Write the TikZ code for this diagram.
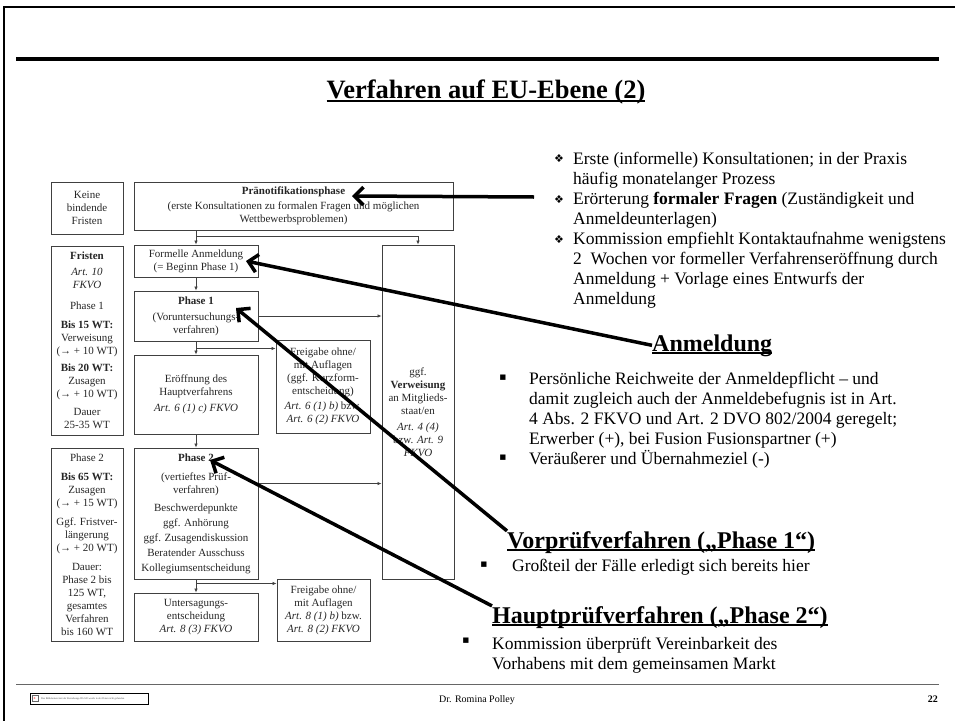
\documentclass[tikz,border=0pt]{standalone}
\usepackage{fontspec}
\setmainfont{Liberation Serif}
\newfontfamily\symfont{DejaVu Sans}
\usetikzlibrary{arrows.meta,calc}
\newcommand{\fcfont}{\fontsize{11}{13}\selectfont}
\newcommand{\txtfont}{\fontsize{17.5}{20.1}\selectfont}
\newcommand{\headfont}{\fontsize{24}{28}\selectfont\bfseries}
\newcommand{\ulhead}[2]{\setbox0\hbox{#2}\rlap{\rule[-#1]{\wd0}{1.6pt}}\box0}
\begin{document}
\begin{tikzpicture}[x=1pt,y=-1pt,
    box/.style={draw=black!75, line width=0.9pt, inner sep=0pt, align=center, font=\fcfont, text=black!85},
    flow/.style={draw=black!75, line width=0.7pt, -{Latex[length=4pt,width=3.5pt]}},
    pointer/.style={line width=3.5pt, -{Straight Barb[length=9pt,width=18pt]}},
    txt/.style={inner sep=0pt, anchor=base west, align=left, font=\txtfont},
    head/.style={inner sep=0pt, anchor=base west, font=\headfont},
    dia/.style={inner sep=0pt, font=\symfont\fontsize{11}{11}\selectfont},
    sq/.style={inner sep=0pt, font=\symfont\fontsize{7}{7}\selectfont}]
\useasboundingbox (0,0) rectangle (955,720);

% slide frame and title
\draw[line width=2.5pt] (4,725) -- (4,7) -- (960,7);
\draw[line width=4pt] (16,59) -- (939,59);
\node[anchor=base, inner sep=0pt, font=\fontsize{26.5}{30}\selectfont\bfseries] (title) at (486,98) {\ulhead{4pt}{Verfahren auf EU-Ebene (2)}};

% flow chart
\node[box, minimum width=72, minimum height=52] (keine) at (87,208) {Keine\\bindende\\Fristen};
\node[box, minimum width=319, minimum height=48] (praeno) at (293.5,206) {\textbf{Pränotifikationsphase}\\[2pt](erste Konsultationen zu formalen Fragen und möglichen\\Wettbewerbsproblemen)};
\node[box, minimum width=72, minimum height=189] (fristen) at (87,340.5) {\textbf{Fristen}\\[3pt]\textit{Art. 10}\\\textit{FKVO}\\[8pt]Phase 1\\[6pt]\textbf{Bis 15 WT:}\\Verweisung\\(→ + 10 WT)\\[4pt]\textbf{Bis 20 WT:}\\Zusagen\\(→ + 10 WT)\\[5pt]Dauer\\25-35 WT};
\node[box, minimum width=124, minimum height=32] (formell) at (196,261) {Formelle Anmeldung\\(= Beginn Phase 1)};
\node[box, minimum width=124, minimum height=50] (phase1) at (196,316) {\textbf{Phase 1}\\[3pt](Voruntersuchungs-\\verfahren)};
\node[box, minimum width=124, minimum height=79] (eroeff) at (196,394.5) {Eröffnung des\\Hauptverfahrens\\[3pt]\textit{Art. 6 (1) c) FKVO}};
\node[box, minimum width=94, minimum height=93] (frei1) at (323,386.5) {Freigabe ohne/\\mit Auflagen\\(ggf. Kurzform-\\entscheidung)\\[2pt]\textit{Art. 6 (1) b)} bzw.\\\textit{Art. 6 (2) FKVO}};
\node[box, minimum width=72, minimum height=334] (verw) at (418,412) {ggf.\\\textbf{Verweisung}\\an Mitglieds-\\staat/en\\[3pt]\textit{Art. 4 (4)}\\bzw. \textit{Art. 9}\\\textit{FKVO}};
\node[box, minimum width=72, minimum height=193] (phase2l) at (87,544.5) {Phase 2\\[6pt]\textbf{Bis 65 WT:}\\Zusagen\\(→ + 15 WT)\\[6pt]Ggf. Fristver-\\längerung\\(→ + 20 WT)\\[6pt]Dauer:\\Phase 2 bis\\125 WT,\\gesamtes\\Verfahren\\bis 160 WT};
\node[box, minimum width=124, minimum height=131] (phase2) at (196,513.5) {\textbf{Phase 2}\\[6pt](vertieftes Prüf-\\verfahren)\\[5pt]Beschwerdepunkte\\[2pt]ggf. Anhörung\\[2pt]ggf. Zusagendiskussion\\[2pt]Beratender Ausschuss\\[2pt]Kollegiumsentscheidung};
\node[box, minimum width=124, minimum height=48] (unters) at (196,617) {Untersagungs-\\entscheidung\\\textit{Art. 8 (3) FKVO}};
\node[box, minimum width=93, minimum height=62] (frei2) at (323.5,610) {Freigabe ohne/\\mit Auflagen\\\textit{Art. 8 (1) b)} bzw.\\\textit{Art. 8 (2) FKVO}};

\coordinate (b0) at ($(formell.north |- praeno.south)+(0,6)$);
\coordinate (b1) at ($(phase1.south)+(0,7)$);
\coordinate (b2) at ($(phase2.north east)+(0,36)$);
\coordinate (b3) at ($(phase2.south)+(0,4)$);
\draw[flow] (formell.north |- praeno.south) -- (formell.north);
\draw[flow] (b0) -| (verw.north);
\draw[flow] (formell.south) -- (phase1.north);
\draw[flow] (phase1.east) -- (phase1.east -| verw.west);
\draw[flow] (phase1.south) -- (eroeff.north);
\draw[flow] (b1) -- (b1 -| frei1.west);
\draw[flow] (eroeff.south) -- (phase2.north);
\draw[flow] (b2) -- (b2 -| verw.west);
\draw[flow] (phase2.south) -- (unters.north);
\draw[flow] (b3) -- (b3 -| frei2.west);

% notes on the right (base = last line)
\node[txt] (n1) at (573,304.7) {Erste (informelle) Konsultationen; in der Praxis\\häufig monatelanger Prozess\\Erörterung \textbf{formaler Fragen} (Zuständigkeit und\\Anmeldeunterlagen)\\Kommission empfiehlt Kontaktaufnahme wenigstens\\2~~Wochen vor formeller Verfahrenseröffnung durch\\Anmeldung + Vorlage eines Entwurfs der\\Anmeldung};
\foreach \y [count=\i] in {159,199.2,239.4}
    \node[dia] (d\i) at (559,\y) {❖};

\node[head] (anm) at (652,351) {\ulhead{3pt}{Anmeldung}};
\node[txt] (n2) at (529,464.4) {Persönliche Reichweite der Anmeldepflicht – und\\damit zugleich auch der Anmeldebefugnis ist in Art.\\4 Abs. 2 FKVO und Art. 2 DVO 802/2004 geregelt;\\Erwerber (+), bei Fusion Fusionspartner (+)\\Veräußerer und Übernahmeziel (-)};
\node[sq] (s1) at (503,378) {■};
\node[sq] (s2) at (503,458) {■};

\node[head] (vor) at (507,548) {\ulhead{3pt}{Vorprüfverfahren („Phase 1“)}};
\node[txt] (n3) at (512,571) {Großteil der Fälle erledigt sich bereits hier};
\node[sq] (s3) at (484,565) {■};

\node[head] (haupt) at (492,623) {\ulhead{3pt}{Hauptprüfverfahren („Phase 2“)}};
\node[txt] (n4) at (492,669.1) {Kommission überprüft Vereinbarkeit des\\Vorhabens mit dem gemeinsamen Markt};
\node[sq] (s4) at (466,641) {■};

% pointers
\coordinate (s1a) at (534,197);
\coordinate (t1) at (352,196);
\coordinate (t2) at (246,261);
\coordinate (t3) at (236,308);
\coordinate (t4) at (210,460);
\draw[pointer] (s1a) -- (t1);
\draw[pointer] (anm.west) -- (t2);
\draw[pointer] (vor.north west) -- (t3);
\draw[pointer] (haupt.north west) -- (t4);

% footer
\draw[black!60, line width=1pt] (16,684) -- (939,684);
\node[anchor=base, inner sep=0pt, font=\fontsize{10}{12}\selectfont] (author) at (477,702) {Dr. Romina Polley};
\node[anchor=base east, inner sep=0pt, font=\fontsize{10}{12}\selectfont\bfseries] (page) at (938,702) {22};
\node[draw, line width=0.6pt, minimum width=118, minimum height=11, inner sep=0pt] (ph) at (89,698.5) {};
\node[draw=black!60, fill=white, minimum size=6, inner sep=0pt, font=\fontsize{4}{4}\selectfont, text=red] (icon) at ($(ph.west)+(5,0)$) {x};
\node[anchor=west, inner sep=0pt, font=\fontsize{2.6}{3}\selectfont, text=black!70] (phtext) at ($(icon.east)+(3,0)$) {Das Bildelement mit der Beziehungs-ID rId2 wurde in der Datei nicht gefunden.};
\end{tikzpicture}
\end{document}
